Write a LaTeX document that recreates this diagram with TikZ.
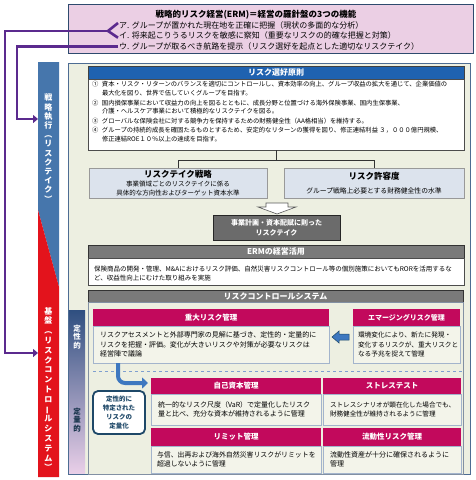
\documentclass[tikz,border=0pt]{standalone}
\usepackage{fontspec}
\setmainfont{Noto Sans CJK JP}
\usetikzlibrary{arrows.meta}
\definecolor{ermpink}{HTML}{EBCFE4}
\definecolor{ermline}{HTML}{2E4A6E}
\definecolor{purp}{HTML}{5B2A8E}
\definecolor{panel}{HTML}{EDEFE1}
\definecolor{panelline}{HTML}{4D6C93}
\definecolor{prinblue}{HTML}{1F62B0}
\definecolor{boxgray}{HTML}{7A7A7A}
\definecolor{plangray}{HTML}{6B6B6B}
\definecolor{stratfill}{HTML}{DCE3ED}
\definecolor{crimson}{HTML}{C2095C}
\definecolor{rcsbody}{HTML}{F3F4EA}
\definecolor{rcsline}{HTML}{A3B4CC}
\definecolor{bandblue}{HTML}{4676AC}
\definecolor{bandred}{HTML}{E3131C}
\definecolor{arrowblue}{HTML}{3E78C0}
\definecolor{navy}{HTML}{1E4868}
\definecolor{colblue}{HTML}{2F4F80}
\definecolor{colmid}{HTML}{8C94C2}
\definecolor{colpink}{HTML}{E9CFE8}
\definecolor{dashblue}{HTML}{7F9FCF}
\newcommand{\vchoon}{\rotatebox[origin=c]{90}{ー}}

\begin{document}
\begin{tikzpicture}[x=1pt,y=-1pt,
    box/.style={anchor=north west,inner sep=0pt,outer sep=0pt},
    hd/.style={box,text=white,font=\bfseries\fontsize{7.5}{9}\selectfont},
    bd/.style={box,align=left,fill=rcsbody,draw=rcsline,font=\fontsize{7}{9.4}\selectfont},
    wb/.style={box,fill=white,draw=gray!60!black,line width=0.6pt},
    vt/.style={align=center,text=white,font=\bfseries\fontsize{8}{9.2}\selectfont},
    pline/.style={draw=purp,line width=2.6pt},
    parr/.style={pline,-{Triangle[length=5pt,width=8pt]}},
    tree/.style={draw=gray!40!black,line width=0.6pt},
  ]
  \useasboundingbox (0,0) rectangle (476,480);
  % three functions of ERM
  \node[box,fill=ermpink,draw=ermline,line width=0.8pt,minimum width=405,minimum height=49] (erm) at (68,4) {};
  \node[font=\bfseries\fontsize{8.5}{10}\selectfont] (ermtitle) at (256,15) {戦略的リスク経営(ERM)＝経営の羅針盤の3つの機能};
  \node[anchor=west,inner sep=1pt,font=\fontsize{8}{10}\selectfont] (la) at (118,25) {ア. グループが置かれた現在地を正確に把握（現状の多面的な分析）};
  \node[anchor=west,inner sep=1pt,font=\fontsize{8}{10}\selectfont] (li) at (118,35.7) {イ. 将来起こりうるリスクを敏感に察知（重要なリスクの的確な把握と対策）};
  \node[anchor=west,inner sep=1pt,font=\fontsize{8}{10}\selectfont] (lu) at (118,46.7) {ウ. グループが取るべき航路を提示（リスク選好を起点とした適切なリスクテイク）};

  % left band
  \fill[bandblue] (38,62) -- (59,62) -- (59,287) -- (38,210) -- cycle;
  \fill[bandred] (38,210) -- (59,287) -- (59,477) -- (38,477) -- cycle;
  \node[vt] (exec) at (48.5,148) {戦\\略\\執\\行\\︵\\リ\\ス\\ク\\テ\\イ\\ク\\︶};
  \node[vt,font=\bfseries\fontsize{8}{9.8}\selectfont] (base) at (48.5,389) {基\\盤\\︵\\リ\\ス\\ク\\コ\\ン\\ト\\ロ\\\vchoon\\ル\\シ\\ス\\テ\\ム\\︶};

  % purple connectors
  \coordinate (bk) at (108,31);
  \coordinate (execin) at (38,119);
  \coordinate (basein) at (38,353);
  \draw[pline] ([yshift=2pt]la.west) -- (bk) -- ([yshift=-2pt]li.west);
  \draw[parr] (bk) -- ++(-103,0) |- (basein);
  \draw[parr] (lu.west) -- ++(-101,0) |- (execin);

  % main panel
  \node[box,fill=panel,draw=panelline,line width=1pt,minimum width=402,minimum height=411] (panel) at (68,63) {};

  % risk appetite principles
  \node[hd,fill=prinblue,draw=gray!50!black,minimum width=376,minimum height=13,font=\bfseries\fontsize{8}{9}\selectfont] (prinhd) at (88,66) {リスク選好原則};
  \node[wb,minimum width=376,minimum height=71] (prin) at (88,79) {};
  \node[anchor=north west,inner sep=0pt,font=\fontsize{6.3}{8.6}\selectfont] (printxt) at (92,80.5) {%
    \begin{tabular}{@{}l@{\hspace{3.5pt}}l@{}}
    ① & 資本・リスク・リターンのバランスを適切にコントロールし、資本効率の向上、グループ収益の拡大を通じて、企業価値の\\
      & 最大化を図り、世界で伍していくグループを目指す。\\[1.4pt]
    ② & 国内損保事業において収益力の向上を図るとともに、成長分野と位置づける海外保険事業、国内生保事業、\\
      & 介護・ヘルスケア事業において積極的なリスクテイクを図る。\\[1.4pt]
    ③ & グローバルな保険会社に対する競争力を保持するための財務健全性（AA格相当）を維持する。\\[0.3pt]
    ④ & グループの持続的成長を確固たるものとするため、安定的なリターンの獲得を図り、修正連結利益 ３，０００億円規模、\\
      & 修正連結ROE１０％以上の達成を目指す。
    \end{tabular}};

  \node[box,fill=stratfill,draw=gray!80,line width=0.6pt,minimum width=178,minimum height=30,align=center,font=\fontsize{6.5}{9}\selectfont] (strat) at (89,168) {{\bfseries\fontsize{8.5}{10}\selectfont リスクテイク戦略}\\事業領域ごとのリスクテイクに係る\\具体的な方向性およびターゲット資本水準};
  \node[box,fill=stratfill,draw=gray!80,line width=0.6pt,minimum width=180,minimum height=30,align=center,font=\fontsize{6.8}{9}\selectfont] (tol) at (284,168) {{\bfseries\fontsize{8.5}{10}\selectfont リスク許容度}\\[5pt]グループ戦略上必要とする財務健全性の水準};
  \draw[tree] (prin.south) -- ++(0,10) -| (strat.north);
  \draw[tree] (prin.south) -- ++(0,10) -| (tol.north);

  % hollow arrow and plan box
  \filldraw[fill=white,draw=gray!70!black,line width=0.6pt] (266,203) -- (288,203) -- (288,207) -- (296,207) -- (277,214) -- (258,207) -- (266,207) -- cycle;
  \node[box,fill=plangray,draw=gray!30!black,line width=0.6pt,minimum width=127,minimum height=25,align=center,text=white,font=\bfseries\fontsize{7}{10}\selectfont] (plan) at (213,215) {事業計画・資本配賦に則った\\リスクテイク};

  % ERM in management
  \node[hd,fill=boxgray,draw=gray!40!black,minimum width=376,minimum height=13,font=\bfseries\fontsize{8}{9}\selectfont] (ermhd) at (88,245) {ERMの経営活用};
  \node[wb,minimum width=376,minimum height=27] (ermbd) at (88,258) {};
  \node[anchor=north west,inner sep=0pt,align=left,font=\fontsize{6.5}{8.4}\selectfont] (ermtxt) at (94,266) {保険商品の開発・管理、M\&Aにおけるリスク評価、自然災害リスクコントロール等の個別施策においてもRORを活用するな\\ど、収益性向上にむけた取り組みを実施};

  % risk control system
  \node[hd,fill=boxgray,draw=gray!40!black,minimum width=375,minimum height=12,font=\bfseries\fontsize{8}{9}\selectfont] (rcshd) at (88,290) {リスクコントロールシステム};
  \node[box,fill=panel,draw=rcsline!80!black,line width=0.8pt,minimum width=375,minimum height=172] (rcs) at (88,302) {};
  \shade[top color=colblue,middle color=colmid,bottom color=colpink] (69,310) rectangle (85,473);
  \node[align=center,text=white,font=\bfseries\fontsize{7.5}{8.6}\selectfont] (qual) at (77,337) {定\\性\\的};
  \node[align=center,text=navy!70!black,font=\bfseries\fontsize{7.5}{8.6}\selectfont] (qnt) at (77,420) {定\\量\\的};

  \node[hd,fill=crimson,minimum width=236,minimum height=17] (gravehd) at (93,309) {重大リスク管理};
  \node[bd,minimum width=236,minimum height=37,text width=222] (grave) at (93,326) {リスクアセスメントと外部専門家の見解に基づき、定性的・定量的に\\リスクを把握・評価。変化が大きいリスクや対策が必要なリスクは\\経営陣で議論};
  \node[hd,fill=crimson,minimum width=107,minimum height=17,font=\bfseries\fontsize{7}{9}\selectfont] (emerghd) at (353,309) {エマージングリスク管理};
  \node[bd,minimum width=107,minimum height=37,text width=97,font=\fontsize{6.7}{9.4}\selectfont] (emerg) at (353,326) {環境変化により、新たに発現・\\変化するリスクが、重大リスクと\\なる予兆を捉えて管理};
  \filldraw[fill=arrowblue,draw=navy,line width=0.5pt] (332,337) -- (339,331) -- (339,334) -- (349,334) -- (349,340) -- (339,340) -- (339,343) -- cycle;
  \draw[dashed,draw=dashblue,line width=0.8pt] (93,371) -- (462,371);

  \node[hd,fill=crimson,minimum width=170,minimum height=16] (ownhd) at (151,378) {自己資本管理};
  \node[bd,minimum width=170,minimum height=31,text width=156] (own) at (151,394) {統一的なリスク尺度（VaR）で定量化したリスク\\量と比べ、充分な資本が維持されるように管理};
  \node[hd,fill=crimson,minimum width=138,minimum height=16] (stresshd) at (323,378) {ストレステスト};
  \node[bd,minimum width=138,minimum height=31,text width=124,font=\fontsize{6.6}{9.2}\selectfont] (stress) at (323,394) {ストレスシナリオが顕在化した場合でも、\\財務健全性が維持されるように管理};
  \node[hd,fill=crimson,minimum width=170,minimum height=18] (limhd) at (151,428) {リミット管理};
  \node[bd,minimum width=170,minimum height=27,text width=158,font=\fontsize{6.9}{9.2}\selectfont] (lim) at (151,446) {与信、出再および海外自然災害リスクがリミットを\\超過しないように管理};
  \node[hd,fill=crimson,minimum width=138,minimum height=18] (liqhd) at (323,428) {流動性リスク管理};
  \node[bd,minimum width=138,minimum height=27,text width=124] (liq) at (323,446) {流動性資産が十分に確保されるように\\管理};

  \draw[line width=4pt,arrowblue,rounded corners=7pt,-{Triangle[length=6pt,width=11pt]}] ([xshift=25pt]grave.south west) |- ([xshift=-3pt,yshift=3pt]ownhd.west);
  \node[box,fill=white,draw=navy,line width=1.8pt,rounded corners=5pt,minimum width=52,minimum height=43,align=center,text=navy,font=\bfseries\fontsize{6.5}{9}\selectfont] (quant) at (93,391) {定性的に\\特定された\\リスクの\\定量化};
\end{tikzpicture}
\end{document}
